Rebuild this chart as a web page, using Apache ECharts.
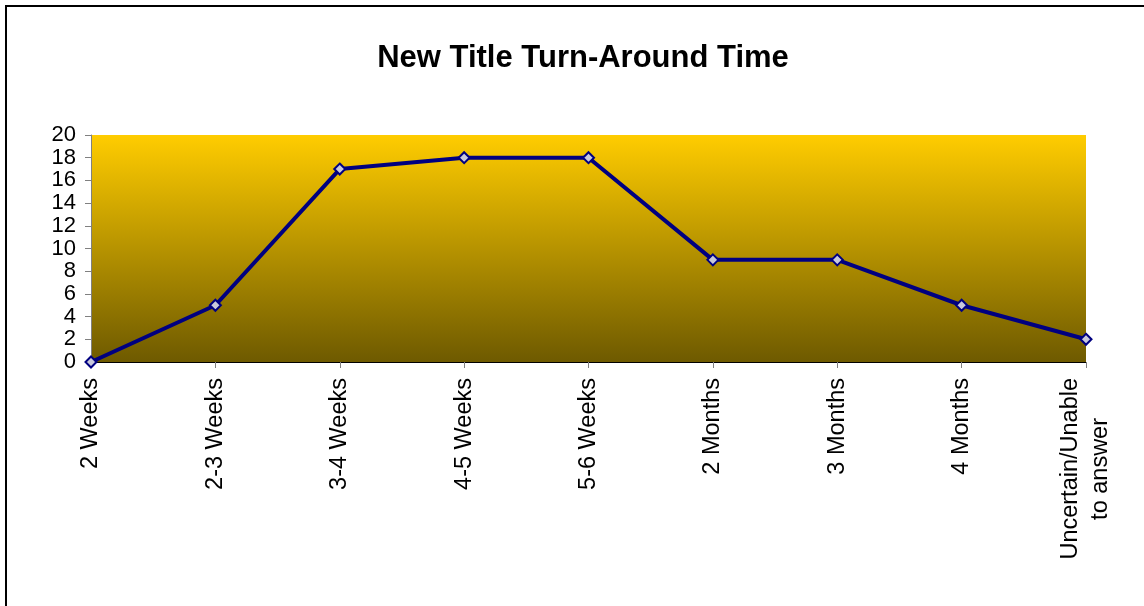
<!DOCTYPE html>
<html>
<head>
<meta charset="utf-8">
<script src="https://cdn.jsdelivr.net/npm/echarts@6/dist/echarts.min.js"></script>
<style>
html,body{margin:0;padding:0;background:#fff;}
#chart{width:1144px;height:606px;}
</style>
</head>
<body>
<div id="chart"></div>
<script>
const titleText = 'New Title Turn-Around Time';
const categories = ['2 Weeks', '2-3 Weeks', '3-4 Weeks', '4-5 Weeks', '5-6 Weeks', '2 Months', '3 Months', '4 Months', 'Uncertain/Unable\nto answer'];
const values = [0, 5, 17, 18, 18, 9, 9, 5, 2];
const yMin = 0, yMax = 20, yStep = 2;

const chart = echarts.init(document.getElementById('chart'), null, {renderer: 'canvas'});
const font = 'Liberation Sans, Arial, sans-serif';
chart.setOption({
  animation: false,
  backgroundColor: '#ffffff',
  title: {
    text: titleText,
    left: 578, top: 38, textAlign: 'center',
    textStyle: {fontFamily: font, fontWeight: 'bold', fontSize: 31, color: '#000'}
  },
  graphic: [{
    type: 'polyline',
    shape: {points: [[6, 606], [6, 6], [1144, 6]]},
    style: {stroke: '#000', lineWidth: 2, fill: null}
  }],
  grid: {
    left: 91, right: 58, top: 135, bottom: 244,
    show: true, borderWidth: 0,
    backgroundColor: new echarts.graphic.LinearGradient(0, 0, 0, 1, [
      {offset: 0, color: '#FFCC00'},
      {offset: 1, color: '#6E5A00'}
    ])
  },
  xAxis: {
    type: 'category',
    data: categories,
    boundaryGap: false,
    axisLine: {lineStyle: {color: '#000', width: 1}},
    axisTick: {show: true, length: 6, lineStyle: {color: '#808080'}},
    splitLine: {show: false},
    axisLabel: {
      interval: 0, rotate: 90, margin: 16,
      fontFamily: font, fontSize: 23.5, color: '#000', lineHeight: 30,
      formatter: function (v) {
        if (v.indexOf('\n') >= 0) {
          const p = v.split('\n');
          return '{a|' + p[0] + '}\n{b|' + p[1] + '}';
        }
        return v;
      },
      rich: {
        a: {fontFamily: font, fontSize: 23.5, color: '#000', lineHeight: 30},
        b: {fontFamily: font, fontSize: 23.5, color: '#000', lineHeight: 30, padding: [0, 40, 0, 0]}
      }
    }
  },
  yAxis: {
    type: 'value',
    min: yMin, max: yMax, interval: yStep,
    axisLine: {show: true, lineStyle: {color: '#808080', width: 1}},
    axisTick: {show: true, length: 6, lineStyle: {color: '#808080'}},
    splitLine: {show: false},
    axisLabel: {
      margin: 15, fontFamily: font, fontSize: 22, color: '#000',
      showMinLabel: true, showMaxLabel: true
    }
  },
  series: [{
    type: 'line',
    data: values,
    symbol: 'diamond',
    symbolSize: 11,
    lineStyle: {color: '#000080', width: 4},
    itemStyle: {color: '#C8C8DC', borderColor: '#000080', borderWidth: 2},
    z: 5
  }]
});
</script>
</body>
</html>
